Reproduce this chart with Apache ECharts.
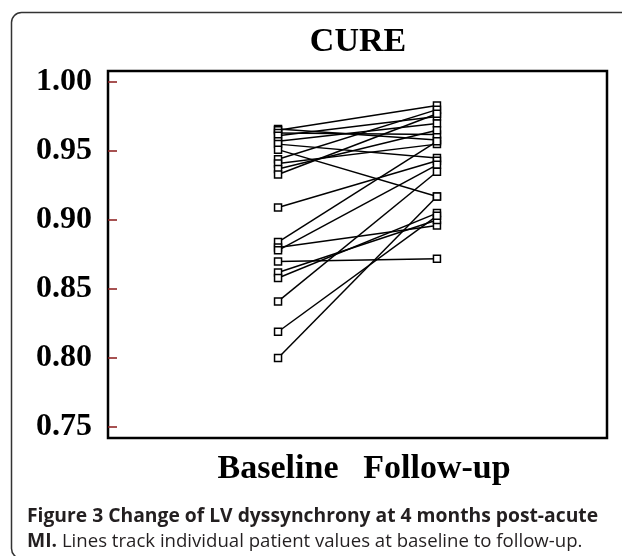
<!DOCTYPE html>
<html>
<head>
<meta charset="utf-8">
<title>CURE</title>
<script src="https://cdn.jsdelivr.net/npm/echarts@6/dist/echarts.min.js"></script>
<style>
    html, body { margin: 0; padding: 0; background: #fff; }
    #chart { width: 622px; height: 556px; }
</style>
</head>
<body>
<div id="chart"></div>
<script>
// data
var timeLabels = ['Baseline', 'Follow-up'];
var baselineValues = [0.966, 0.965, 0.963, 0.961, 0.957, 0.955, 0.951, 0.944, 0.941, 0.937, 0.933, 0.909, 0.884, 0.880, 0.878, 0.870, 0.862, 0.858, 0.841, 0.819, 0.800];
var followUpValues = [0.958, 0.983, 0.962, 0.975, 0.970, 0.945, 0.917, 0.980, 0.955, 0.965, 0.977, 0.943, 0.957, 0.896, 0.940, 0.872, 0.900, 0.905, 0.935, 0.903, 0.917];
var yTicks = [0.75, 0.80, 0.85, 0.90, 0.95, 1.00];

(function () {
    var myChart = echarts.init(document.getElementById('chart'));

    // one line per patient: baseline (x=1) -> follow-up (x=2)
    var series = [];
    for (var i = 0; i < baselineValues.length; i++) {
        series.push({
            type: 'line',
            data: [[1, baselineValues[i]], [2, followUpValues[i]]],
            symbol: 'rect',
            symbolSize: 7,
            showAllSymbol: true,
            lineStyle: { color: '#000', width: 1.5 },
            itemStyle: { color: '#fff', borderColor: '#000', borderWidth: 1.5 },
            silent: true,
            animation: false
        });
    }

    var option = {
        animation: false,
        title: {
            text: 'CURE',
            left: 353,
            top: 20,
            textAlign: 'center',
            textStyle: { fontFamily: 'Liberation Serif', fontWeight: 'bold', fontSize: 34, color: '#000' }
        },
        grid: {
            left: 108,
            top: 71,
            width: 499,
            height: 367,
            show: true,
            borderColor: '#000',
            borderWidth: 2.5,
            backgroundColor: 'transparent'
        },
        xAxis: {
            type: 'value',
            min: -0.07,
            max: 3.07,
            splitLine: { show: false },
            axisLine: { show: false, onZero: false },
            axisTick: { show: false },
            axisLabel: {
                customValues: [1, 2],
                margin: 14,
                fontFamily: 'Liberation Serif',
                fontWeight: 'bold',
                fontSize: 34,
                color: '#000',
                formatter: function (v) { return timeLabels[Math.round(v) - 1]; }
            }
        },
        yAxis: {
            type: 'value',
            min: 0.742,
            max: 1.008,
            splitLine: { show: false },
            axisLine: { show: false, onZero: false },
            axisTick: {
                show: true,
                inside: true,
                length: 9,
                customValues: yTicks,
                lineStyle: { color: '#8b1a1a', width: 1.5 }
            },
            axisLabel: {
                customValues: yTicks,
                margin: 16,
                fontFamily: 'Liberation Serif',
                fontWeight: 'bold',
                fontSize: 32,
                color: '#000',
                formatter: function (v) { return v.toFixed(2); }
            }
        },
        graphic: [
            {
                // rounded frame round the figure
                type: 'rect',
                silent: true,
                shape: { x: 11.5, y: 12.5, width: 640, height: 546, r: 10 },
                style: { fill: 'none', stroke: '#333', lineWidth: 1.5 }
            },
            {
                type: 'text',
                left: 27,
                top: 507,
                style: {
                    text: 'Figure 3 Change of LV dyssynchrony at 4 months post-acute',
                    font: 'bold 19.3px "Open Sans"',
                    fill: '#231f20'
                }
            },
            {
                type: 'text',
                left: 27,
                top: 532,
                style: {
                    text: '{b|MI.} Lines track individual patient values at baseline to follow-up.',
                    font: '18.6px "Open Sans"',
                    fill: '#231f20',
                    rich: {
                        b: { font: 'bold 19.3px "Open Sans"', fill: '#231f20' }
                    }
                }
            }
        ],
        series: series
    };

    myChart.setOption(option);
    window.addEventListener('resize', function () {
        myChart.resize();
    });
})();
</script>
</body>
</html>
